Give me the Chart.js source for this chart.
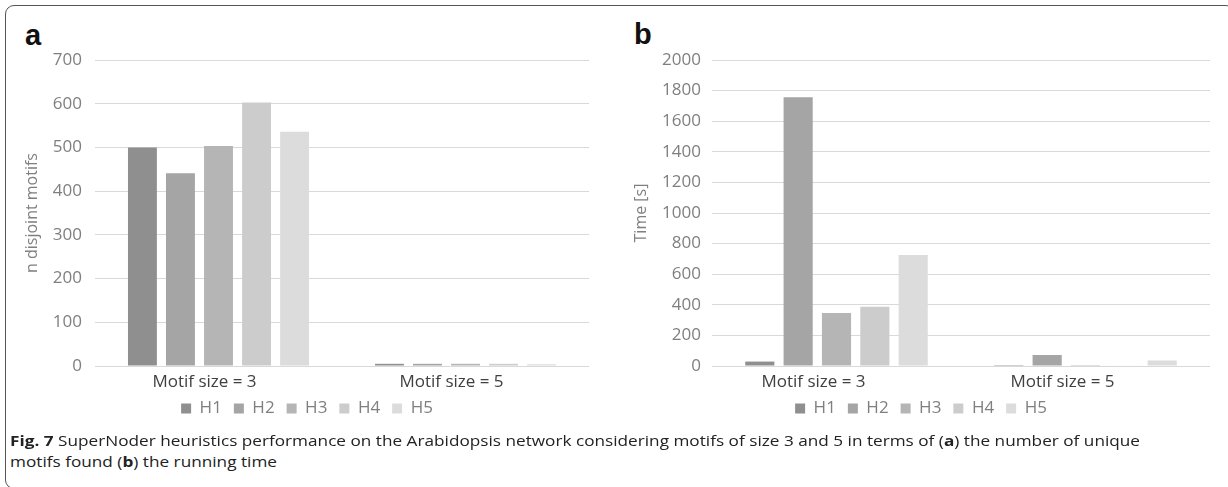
<!DOCTYPE html>
<html>
<head>
<meta charset="utf-8">
<script src="https://cdn.jsdelivr.net/npm/chart.js@4"></script>
<style>
  body { margin: 0; background: #fff; width: 1228px; height: 487px; overflow: hidden; position: relative; font-family: "Open Sans", sans-serif; }
  .frame { position: absolute; left: 5px; top: 5px; width: 1230px; height: 484px; border: 1px solid #555; border-radius: 9px; box-sizing: border-box; }
  .panel { position: absolute; font-family: "Liberation Sans", Arial, sans-serif; font-weight: bold; font-size: 29px; color: #111; line-height: 1; }
  .cv { position: absolute; top: 0; }
  .caption { position: absolute; left: 10px; font-size: 15px; color: #222; white-space: nowrap; transform-origin: left top; line-height: 1; }
  .caption b { font-weight: bold; }
</style>
</head>
<body>
<div class="frame"></div>
<div class="panel" style="left:25px; top:21px;">a</div>
<div class="panel" style="left:634px; top:20px;">b</div>
<div class="cv" style="left:0; width:614px; height:440px;"><canvas id="chartA"></canvas></div>
<div class="cv" style="left:614px; width:614px; height:440px;"><canvas id="chartB"></canvas></div>
<div class="caption" id="cap1" style="top:433px;"><b>Fig. 7</b> SuperNoder heuristics performance on the Arabidopsis network considering motifs of size 3 and 5 in terms of (<b>a</b>) the number of unique</div>
<div class="caption" id="cap2" style="top:454px;">motifs found (<b>b</b>) the running time</div>
<script>
// categories and series
const categories = ['Motif size = 3', 'Motif size = 5']
const seriesNames = ['H1', 'H2', 'H3', 'H4', 'H5']
const seriesColors = ['#8f8f8f', '#a5a5a5', '#b5b5b5', '#cbcccb', '#dcdcdc']

// (a) n disjoint motifs
const motifsH1 = [500, 5]
const motifsH2 = [441, 5]
const motifsH3 = [503, 5]
const motifsH4 = [603, 5]
const motifsH5 = [536, 4]

// (b) running time [s]
const timeH1 = [29, 6]
const timeH2 = [1757, 72]
const timeH3 = [346, 6]
const timeH4 = [387, 3]
const timeH5 = [725, 36]

const motifTicks = [0, 700, 100]   // min, max, step
const timeTicks = [0, 2000, 200]

function makeDatasets(seriesData) {
  let sets = []
  for (let i = 0; i < seriesNames.length; i++) {
    sets.push({
      label: seriesNames[i],
      data: seriesData[i],
      backgroundColor: seriesColors[i],
      borderWidth: 0,
      categoryPercentage: 0.77,
      barPercentage: 0.76
    })
  }
  return sets
}

function createBarChart(canvas, title, seriesData, ticks, layout) {
  const tickFont = { family: 'Open Sans', size: 17 }
  const config = {
    type: 'bar',
    data: { labels: categories, datasets: makeDatasets(seriesData) },
    options: {
      responsive: true,
      maintainAspectRatio: false,
      animation: false,
      layout: { padding: { left: 0, right: 0, top: 60, bottom: layout.bottom } },
      plugins: {
        legend: {
          position: 'bottom',
          labels: {
            boxWidth: 10, boxHeight: 10, padding: 12,
            color: '#7f7f7f',
            font: { family: 'Open Sans', size: 17 }
          }
        },
        title: { display: false },
        tooltip: { enabled: false }
      },
      scales: {
        x: {
          grid: { display: false, drawTicks: false },
          border: { display: false },
          ticks: { color: '#404040', font: tickFont, padding: 6, labelOffset: layout.labelOffset, maxRotation: 0 },
          afterFit: (scale) => { scale.height = layout.xHeight }
        },
        y: {
          min: ticks[0], max: ticks[1],
          grid: { color: '#d9d9d9', lineWidth: 1, drawTicks: false },
          border: { display: false },
          ticks: { stepSize: ticks[2], color: '#7f7f7f', font: tickFont, padding: layout.tickPad,
                   callback: (v) => String(v) },
          title: { display: true, text: title, color: '#7f7f7f', font: { family: 'Open Sans', size: 16 }, padding: { top: layout.titlePad, bottom: 0 } },
          afterFit: (scale) => { scale.width = layout.yWidth }
        },
        // empty right-hand axis, only keeps the plot off the right edge
        yRight: {
          position: 'right',
          grid: { display: false },
          border: { display: false },
          ticks: { display: false },
          afterFit: (scale) => { scale.width = layout.right }
        }
      }
    }
  }
  return new Chart(canvas, config)
}

createBarChart(document.getElementById('chartA'), 'n disjoint motifs',
  [motifsH1, motifsH2, motifsH3, motifsH4, motifsH5], motifTicks,
  { right: 25, bottom: 13, yWidth: 95, tickPad: 13, titlePad: 23, xHeight: 22, labelOffset: -14 })

createBarChart(document.getElementById('chartB'), 'Time [s]',
  [timeH1, timeH2, timeH3, timeH4, timeH5], timeTicks,
  { right: 18, bottom: 13, yWidth: 98, tickPad: 11, titlePad: 18, xHeight: 22, labelOffset: -23 })

// squeeze the caption lines to the width they have in the figure
const cap1 = document.getElementById('cap1')
const cap2 = document.getElementById('cap2')
const sx = 1130 / cap1.getBoundingClientRect().width
cap1.style.transform = 'scaleX(' + sx + ')'
cap2.style.transform = 'scaleX(' + sx + ')'
</script>
</body>
</html>
